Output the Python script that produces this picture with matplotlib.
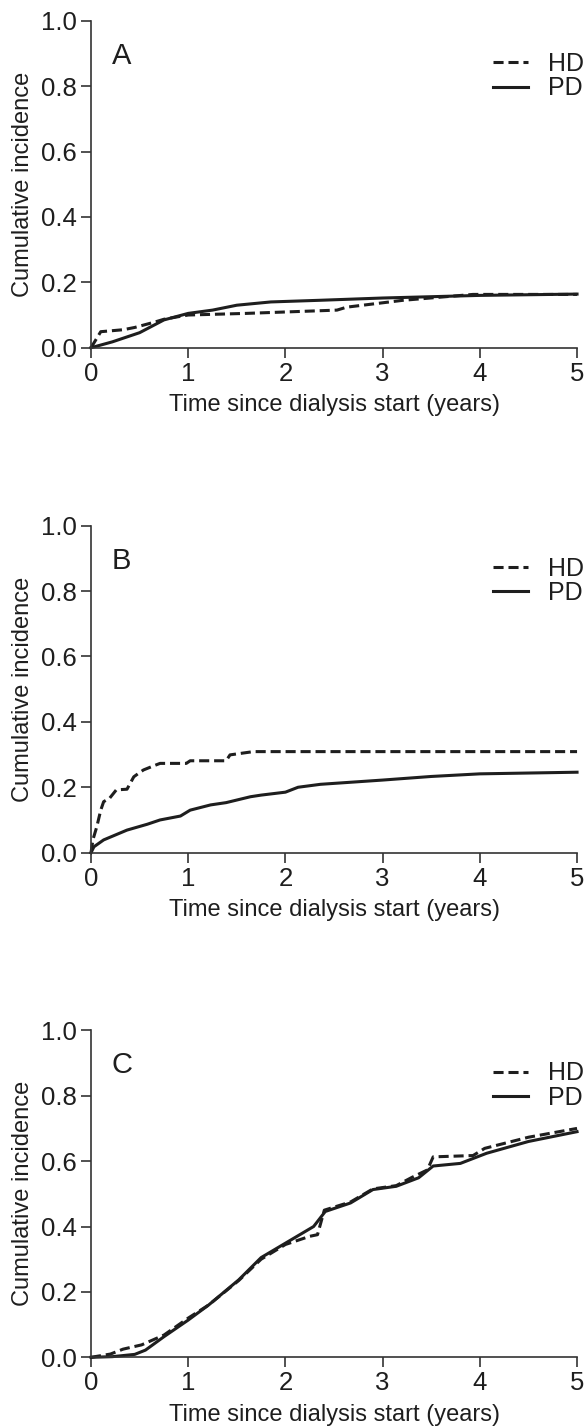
import matplotlib
matplotlib.use("Agg")
import matplotlib.pyplot as plt

plt.rcParams["font.family"] = ["Liberation Sans", "DejaVu Sans"]

# panel A
a_hd_t = [0, 0.1, 0.33, 0.45, 0.55, 0.65, 0.75, 0.9, 1.0, 1.6, 2.53, 2.63, 3.21, 3.93, 5.0]
a_hd_y = [0, 0.049, 0.055, 0.062, 0.07, 0.078, 0.087, 0.095, 0.100, 0.105, 0.115, 0.124, 0.145, 0.163, 0.163]
a_pd_t = [0, 0.22, 0.5, 0.75, 1.0, 1.25, 1.5, 1.85, 2.35, 3.0, 3.5, 4.0, 5.0]
a_pd_y = [0, 0.018, 0.046, 0.085, 0.105, 0.115, 0.13, 0.14, 0.145, 0.152, 0.156, 0.16, 0.164]

# panel B
b_hd_t = [0, 0.02, 0.06, 0.1, 0.13, 0.19, 0.26, 0.37, 0.44, 0.5, 0.54, 0.64, 0.71, 0.98, 1.02, 1.39, 1.43, 1.67, 5.0]
b_hd_y = [0, 0.04, 0.08, 0.13, 0.156, 0.166, 0.192, 0.194, 0.232, 0.245, 0.253, 0.265, 0.273, 0.273, 0.281, 0.281, 0.299, 0.309, 0.309]
b_pd_t = [0, 0.03, 0.13, 0.37, 0.58, 0.71, 0.92, 1.02, 1.23, 1.39, 1.64, 1.75, 2.0, 2.13, 2.36, 3.0, 3.5, 4.0, 5.0]
b_pd_y = [0, 0.018, 0.039, 0.069, 0.087, 0.1, 0.112, 0.13, 0.146, 0.153, 0.171, 0.176, 0.185, 0.2, 0.209, 0.222, 0.233, 0.241, 0.246]

# panel C
c_hd_t = [0, 0.2, 0.33, 0.52, 0.75, 1.0, 1.21, 1.52, 1.75, 2.0, 2.25, 2.33, 2.4, 2.67, 2.9, 3.14, 3.3, 3.46, 3.52, 3.93, 4.05, 4.5, 5.0]
c_hd_y = [0, 0.01, 0.025, 0.038, 0.068, 0.12, 0.16, 0.235, 0.30, 0.345, 0.37, 0.375, 0.45, 0.475, 0.515, 0.525, 0.55, 0.573, 0.613, 0.617, 0.639, 0.673, 0.70]
c_pd_t = [0, 0.22, 0.45, 0.56, 0.75, 1.0, 1.21, 1.52, 1.75, 2.0, 2.29, 2.41, 2.67, 2.9, 3.14, 3.37, 3.52, 3.8, 4.07, 4.5, 5.0]
c_pd_y = [0, 0.002, 0.009, 0.022, 0.063, 0.114, 0.16, 0.237, 0.305, 0.349, 0.40, 0.446, 0.472, 0.513, 0.523, 0.549, 0.585, 0.593, 0.624, 0.66, 0.69]

panels = [
    ("A", a_hd_t, a_hd_y, a_pd_t, a_pd_y, 0.7565),
    ("B", b_hd_t, b_hd_y, b_pd_t, b_pd_y, 0.4029),
    ("C", c_hd_t, c_hd_y, c_pd_t, c_pd_y, 0.0495),
]

ink = "#1e1e1e"
fig = plt.figure(figsize=(5.85, 14.28), dpi=100)

for letter, ht, hy, pt, py, bottom in panels:
    ax = fig.add_axes([0.1556, bottom, 0.8308, 0.229])
    ax.plot(ht, hy, color=ink, lw=2.2, dashes=(3.3, 1.6), label="HD", clip_on=False)
    ax.plot(pt, py, color=ink, lw=2.2, label="PD", clip_on=False)
    ax.set_xlim(0, 5)
    ax.set_ylim(0, 1)
    ax.set_xticks([0, 1, 2, 3, 4, 5])
    ax.set_yticks([0, 0.2, 0.4, 0.6, 0.8, 1.0])
    ax.set_yticklabels(["0.0", "0.2", "0.4", "0.6", "0.8", "1.0"])
    for s in ["top", "right"]:
        ax.spines[s].set_visible(False)
    for s in ["left", "bottom"]:
        ax.spines[s].set_linewidth(1.2)
        ax.spines[s].set_color("#333333")
    ax.tick_params(direction="out", length=7.5, width=1.2, color="#333333",
                   labelsize=18.5, labelcolor=ink, pad=2.5)
    ax.set_xlabel("Time since dialysis start (years)", fontsize=17, color=ink, labelpad=6)
    ax.set_ylabel("Cumulative incidence", fontsize=17, color=ink, labelpad=5)
    ax.text(0.043, 0.868, letter, transform=ax.transAxes, fontsize=21,
            color=ink, va="baseline", ha="left")
    leg = ax.legend(loc="upper right", bbox_to_anchor=(1.015, 0.905), frameon=False,
                    fontsize=18, handlelength=1.4, handletextpad=0.8,
                    labelspacing=0.02, borderpad=0, borderaxespad=0)
    for t in leg.get_texts():
        t.set_color(ink)

fig.savefig("out.png", dpi=100)
